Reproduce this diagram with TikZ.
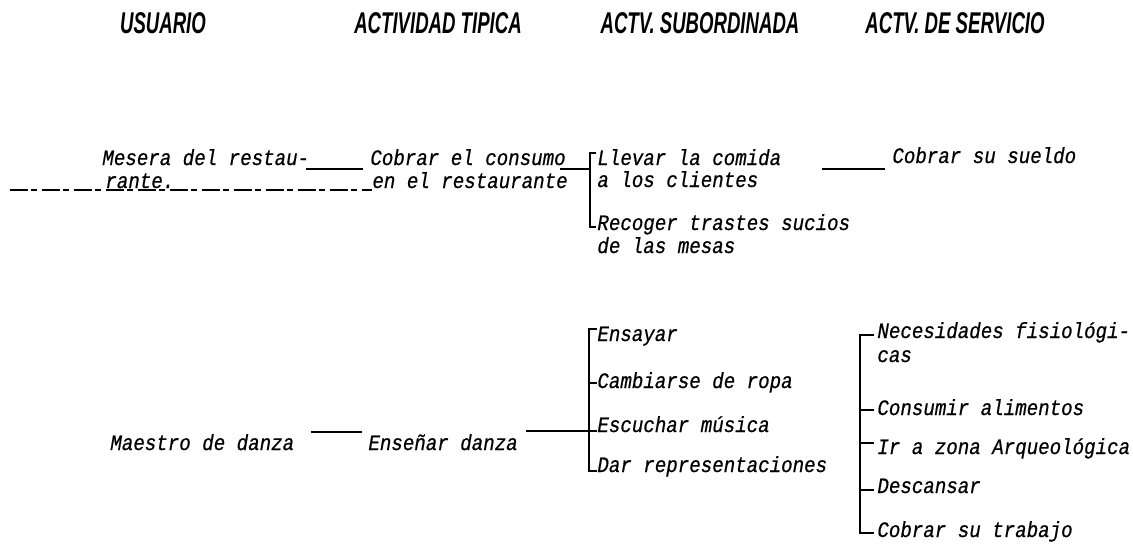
\documentclass[tikz,border=0pt]{standalone}
\usepackage{fontspec}
\newfontfamily\hw[FakeStretch=0.87,FakeBold=0.6]{Liberation Mono}
\newfontfamily\hdr[FakeStretch=0.62]{Liberation Sans}
\usetikzlibrary{calc}
\begin{document}
\begin{tikzpicture}[x=0.5pt,y=-0.5pt,
 txt/.style={anchor=base west,inner sep=0pt,font=\hw\itshape\fontsize{11}{13}\selectfont},
 hd/.style={anchor=base,inner sep=0pt,font=\hdr\bfseries\itshape\fontsize{15}{17}\selectfont},
 ln/.style={line width=0.9pt},
 brk/.style={line width=0.9pt}]
\useasboundingbox (0,0) rectangle (1133,547);
% headers
\node[hd] (h1) at (163,33) {USUARIO};
\node[hd] (h2) at (438,33) {ACTIVIDAD TIPICA};
\node[hd] (h3) at (700,33) {ACTV. SUBORDINADA};
\node[hd] (h4) at (955,33) {ACTV. DE SERVICIO};
% row 1
\node[txt] (m1) at (102,165) {Mesera del restau-};
\node[txt] (m1b) at (105,188) {rante.};
\draw[line width=0.6pt,dash pattern=on 9pt off 1.5pt on 3pt off 2.5pt] (10,190) -- (372,190);
\node[txt] (c1) at (370,165) {Cobrar el consumo};
\node[txt] (c1b) at (372,188) {en el restaurante};
\node[txt] (l1) at (597,165) {Llevar la comida};
\node[txt] (l1b) at (597,187) {a los clientes};
\node[txt] (r1) at (597,230) {Recoger trastes sucios};
\node[txt] (r1b) at (597,253) {de las mesas};
\node[txt] (s1) at (892,163) {Cobrar su sueldo};
\coordinate (b1t) at (590,153);
\coordinate (b1m) at (590,169);
\coordinate (b1b) at (590,227);
\draw[ln] ($(m1.base east)+(-4,4)$) -- ($(c1.base west)+(-7,4)$);
\draw[ln] ($(c1.base east)+(-6,4)$) -- (b1m);
\draw[brk] ($(l1.base west)+(-1,-12)$) -| (b1t) -- (b1b) -- ($(r1.base west)+(-1,-3)$);
\draw[ln] ($(l1.base east)+(40,4)$) -- ($(s1.base west)+(-7,6)$);
% row 2
\node[txt] (m2) at (110,450) {Maestro de danza};
\node[txt] (e2) at (368,450) {Enseñar danza};
\node[txt] (a1) at (597,341) {Ensayar};
\node[txt] (a2) at (597,388) {Cambiarse de ropa};
\node[txt] (a3) at (597,432) {Escuchar música};
\node[txt] (a4) at (597,472) {Dar representaciones};
\coordinate (b2t) at (589,329);
\coordinate (b2m) at (589,431);
\coordinate (b2b) at (589,471);
\draw[ln] ($(m2.base east)+(16,-18)$) -- ($(e2.base west)+(-6,-18)$);
\draw[ln] ($(e2.base east)+(8,-19)$) -- (b2m);
\draw[brk] (a1.base west |- b2t) -- (b2t) -- (b2b) -- (a4.base west |- b2b);
\draw[brk] (b2b |- 0,383) -- (a2.base west |- 0,383);
\draw[brk] (b2m) -- (a3.base west |- b2m);
% servicio
\node[txt] (n1) at (877,338) {Necesidades fisiológi-};
\node[txt] (n1b) at (877,362) {cas};
\node[txt] (n2) at (877,415) {Consumir alimentos};
\node[txt] (n3) at (877,454) {Ir a zona Arqueológica};
\node[txt] (n4) at (877,493) {Descansar};
\node[txt] (n5) at (877,537) {Cobrar su trabajo};
\coordinate (b3t) at (860,335);
\coordinate (b3b) at (860,533);
\draw[brk] ($(n1.base west)+(-3,-3)$) -| (b3t) -- (b3b) -- ($(n5.base west)+(-3,-4)$);
\draw[brk] (b3t |- 0,410) -- ($(n2.base west |- 0,410)+(-3,0)$);
\draw[brk] (b3t |- 0,443) -- ($(n3.base west |- 0,443)+(-3,0)$);
\draw[brk] (b3t |- 0,490) -- ($(n4.base west |- 0,490)+(-3,0)$);
\end{tikzpicture}
\end{document}
